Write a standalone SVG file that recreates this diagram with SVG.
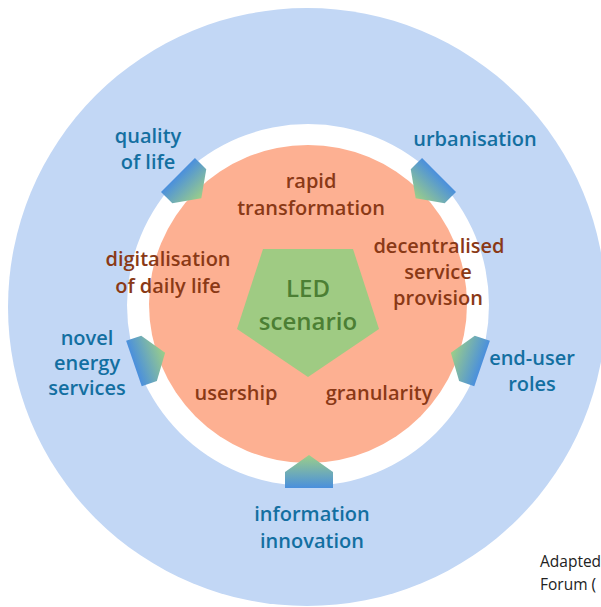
<svg xmlns="http://www.w3.org/2000/svg" width="601" height="607" viewBox="0 0 601 607">
<style>
text{font-family:"Open Sans","Noto Sans","Liberation Sans",sans-serif;font-weight:600;text-anchor:middle}
.outer{fill:#136fa1;font-size:20px}
.inner{fill:#8a3916;font-size:20px}
.core{fill:#4c7f34;font-size:24px}
.note{fill:#222;font-size:15.5px;text-anchor:start;font-weight:400}
.badge{fill:url(#bg)}
</style>
<defs>
<linearGradient id="bg" x1="0" y1="0" x2="0" y2="1">
<stop offset="0" stop-color="#9ccf88"/>
<stop offset="1" stop-color="#4a8fdd"/>
</linearGradient>
<path id="house" d="M-24,17 L24,17 L24,1 L0,-16 L-24,1 Z"/>
</defs>
<rect width="601" height="607" fill="#fff"/>
<circle cx="307" cy="307" r="299" fill="#c2d7f5"/>
<circle cx="308" cy="305" r="181" fill="#fff"/>
<circle cx="308" cy="304" r="159" fill="#fdb092"/>
<g id="led">
<polygon points="263,249 353,249 379,329 308,377 237,329" fill="#9fcb83"/>
<text class="core" x="308" y="297" font-weight="500">LED</text>
<text class="core" x="308" y="330" font-weight="500">scenario</text>
</g>
<g id="rapid"><text class="inner" x="311" y="188">rapid</text><text class="inner" x="311" y="215">transformation</text></g>
<g id="digital"><text class="inner" x="168" y="266">digitalisation</text><text class="inner" x="168" y="293">of daily life</text></g>
<g id="decentral"><text class="inner" x="439" y="253">decentralised</text><text class="inner" x="438" y="279">service</text><text class="inner" x="438" y="305">provision</text></g>
<g id="usership"><text class="inner" x="236" y="400">usership</text></g>
<g id="granularity"><text class="inner" x="379" y="400">granularity</text></g>
<g id="connectors">
<use href="#house" class="badge" transform="translate(309,471)"/>
<use href="#house" class="badge" transform="translate(150,358) rotate(71)"/>
<use href="#house" class="badge" transform="translate(190,187) rotate(135)"/>
<use href="#house" class="badge" transform="translate(427,187) rotate(225)"/>
<use href="#house" class="badge" transform="translate(466,358) rotate(289)"/>
</g>
<g id="quality"><text class="outer" x="148" y="143">quality</text><text class="outer" x="148" y="169">of life</text></g>
<g id="urban"><text class="outer" x="475" y="146">urbanisation</text></g>
<g id="novel"><text class="outer" x="87" y="345">novel</text><text class="outer" x="87" y="370">energy</text><text class="outer" x="87" y="395">services</text></g>
<g id="enduser"><text class="outer" x="532" y="365">end-user</text><text class="outer" x="532" y="391">roles</text></g>
<g id="info"><text class="outer" x="312" y="521">information</text><text class="outer" x="312" y="548">innovation</text></g>
<text class="note" x="540" y="567">Adapted</text>
<text class="note" x="540" y="590">Forum (</text>
</svg>
